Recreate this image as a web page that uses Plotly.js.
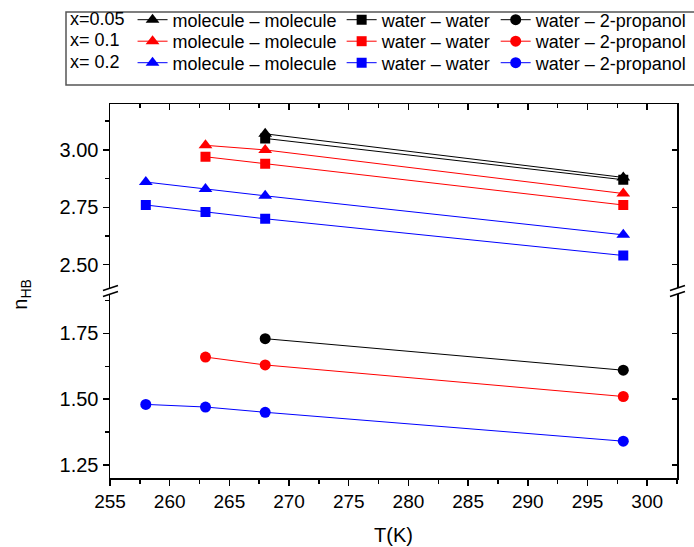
<!DOCTYPE html>
<html>
<head>
<meta charset="utf-8">
<script src="https://cdn.plot.ly/plotly-3.0.1.min.js"></script>
<style>html,body{margin:0;padding:0;background:#fff;}#chart{width:694px;height:547px;}</style>
</head>
<body>
<div id="chart"></div>
<script>
// ---- data ----
const T_005 = [268, 298];
const mm_005 = [3.07, 2.88];
const ww_005 = [3.05, 2.87];
const wp_005 = [1.73, 1.61];

const T_01 = [263, 268, 298];
const mm_01 = [3.02, 3.00, 2.81];
const ww_01 = [2.97, 2.94, 2.76];
const wp_01 = [1.66, 1.63, 1.51];

const T_02 = [258, 263, 268, 298];
const mm_02 = [2.86, 2.83, 2.80, 2.63];
const ww_02 = [2.76, 2.73, 2.70, 2.54];
const wp_02 = [1.48, 1.47, 1.45, 1.34];

const rowLabels = ['x=0.05', 'x= 0.1\u00a0', 'x= 0.2\u00a0'];
const seriesNames = ['molecule \u2013 molecule', 'water \u2013 water', 'water \u2013 2-propanol'];
const xTickVals = [255, 260, 265, 270, 275, 280, 285, 290, 295, 300];
const yUpperTicks = [2.50, 2.75, 3.00];
const yLowerTicks = [1.25, 1.50, 1.75];

// ---- styling ----
const FONT = 'Liberation Sans, Arial, sans-serif';
const colors = ['#000000', '#ff0000', '#0000ff'];
const symbols = ['triangle-up', 'square', 'circle'];
const msize = [12, 10, 11];
const legends = ['legend', 'legend2', 'legend3'];

const groups = [
  {T: T_005, vals: [mm_005, ww_005, wp_005]},
  {T: T_01, vals: [mm_01, ww_01, wp_01]},
  {T: T_02, vals: [mm_02, ww_02, wp_02]}
];

const traces = [];
groups.forEach((g, gi) => {
  g.vals.forEach((v, si) => {
    traces.push({
      x: g.T, y: v,
      yaxis: si === 2 ? 'y' : 'y2',
      xaxis: 'x',
      mode: 'lines+markers',
      name: seriesNames[si],
      legend: legends[gi],
      line: {color: colors[gi], width: 1},
      marker: {symbol: symbols[si], size: msize[si], color: colors[gi], line: {width: 0}},
      hoverinfo: 'x+y'
    });
  });
});
// invisible helper traces so the mirrored frame axes (top / right) get their subplots drawn
[['x2', 'y2', mm_005], ['x', 'y3', wp_005], ['x', 'y4', mm_005]].forEach(([xa, ya, v]) => {
  traces.push({x: T_005, y: v, xaxis: xa, yaxis: ya, mode: 'markers',
    marker: {opacity: 0, size: 1}, showlegend: false, hoverinfo: 'skip'});
});

const axFont = {family: FONT, size: 20, color: '#000'};
const baseY = {
  showline: true, linecolor: '#000', linewidth: 1.5,
  ticks: 'outside', ticklen: 6, tickwidth: 1.5, tickcolor: '#000',
  showgrid: false, zeroline: false, tickfont: axFont, tickformat: '.2f',
  minor: {ticks: 'outside', ticklen: 4, tickwidth: 1.5, tickcolor: '#000', showgrid: false}
};

const brk = 0.5;
function slash(xa, dy) {
  return {type: 'line', xref: 'paper', yref: 'paper', xsizemode: 'pixel', ysizemode: 'pixel',
    xanchor: xa, yanchor: brk, x0: -7, x1: 8, y0: dy - 2.5, y1: dy + 2.5,
    line: {color: '#000', width: 1.5}};
}

const LFONT = {family: FONT, size: 18, color: '#000'};
const legendBase = (yc, label) => ({
  orientation: 'h', xref: 'container', yref: 'container',
  x: 68 / 694, y: 1 - yc / 547, xanchor: 'left', yanchor: 'middle',
  bgcolor: 'rgba(0,0,0,0)', borderwidth: 0,
  font: LFONT,
  itemwidth: 30,
  title: {text: label, side: 'left', font: LFONT}
});

const layout = {
  width: 694, height: 547,
  margin: {l: 110, r: 17, t: 104, b: 69, pad: 0},
  paper_bgcolor: '#fff', plot_bgcolor: '#fff',
  font: {family: FONT, color: '#000'},
  showlegend: true,
  xaxis: {
    range: [255, 302.5], tickvals: xTickVals, anchor: 'y', domain: [0, 1],
    showline: true, linecolor: '#000', linewidth: 1.5,
    ticks: 'outside', ticklen: 6, tickwidth: 1.5, tickcolor: '#000',
    showgrid: false, zeroline: false, tickfont: {family: FONT, size: 19, color: '#000'},
    minor: {dtick: 2.5, tick0: 255, ticks: 'outside', ticklen: 4, tickwidth: 1.5, tickcolor: '#000', showgrid: false},
    title: {text: 'T(K)', font: {family: FONT, size: 20, color: '#000'}, standoff: 16}
  },
  xaxis2: {
    range: [255, 302.5], overlaying: 'x', anchor: 'y2', side: 'top',
    showline: true, linecolor: '#000', linewidth: 1.5,
    ticks: 'inside', ticklen: 6, tickwidth: 1.5, tickcolor: '#000', tickvals: xTickVals,
    showticklabels: false, showgrid: false, zeroline: false,
    minor: {dtick: 2.5, tick0: 255, ticks: 'inside', ticklen: 4, tickwidth: 1.5, tickcolor: '#000', showgrid: false}
  },
  yaxis: Object.assign({}, baseY, {
    domain: [0, 0.492], range: [1.2, 1.9], tickvals: yLowerTicks, anchor: 'x',
    minor: Object.assign({}, baseY.minor, {dtick: 0.125, tick0: 1.25})
  }),
  yaxis2: Object.assign({}, baseY, {
    domain: [0.509, 1], range: [2.4, 3.2], tickvals: yUpperTicks, anchor: 'x',
    minor: Object.assign({}, baseY.minor, {dtick: 0.125, tick0: 2.5})
  }),
  yaxis3: {
    overlaying: 'y', side: 'right', anchor: 'x', range: [1.2, 1.9],
    showline: true, linecolor: '#000', linewidth: 1.5,
    ticks: 'inside', ticklen: 5, tickwidth: 1.5, tickcolor: '#000', tickvals: yLowerTicks,
    showticklabels: false, showgrid: false, zeroline: false
  },
  yaxis4: {
    overlaying: 'y2', side: 'right', anchor: 'x', range: [2.4, 3.2],
    showline: true, linecolor: '#000', linewidth: 1.5,
    ticks: 'inside', ticklen: 5, tickwidth: 1.5, tickcolor: '#000', tickvals: yUpperTicks,
    showticklabels: false, showgrid: false, zeroline: false
  },
  legend: legendBase(20, rowLabels[0]),
  legend2: legendBase(41.5, rowLabels[1]),
  legend3: legendBase(63, rowLabels[2]),
  shapes: [
    slash(0, 3), slash(0, -3), slash(1, 3), slash(1, -3),
    {type: 'rect', xref: 'paper', yref: 'paper', xsizemode: 'pixel', ysizemode: 'pixel',
     xanchor: 0, yanchor: 1, x0: -44, x1: 600, y0: 19, y1: 92,
     line: {color: '#555', width: 1.5}, fillcolor: 'rgba(0,0,0,0)'}
  ],
  annotations: [{
    text: 'n<sub>HB</sub>', xref: 'paper', yref: 'paper', x: -88 / 567, y: 0.49,
    xanchor: 'center', yanchor: 'middle', textangle: -90, showarrow: false,
    font: {family: FONT, size: 20, color: '#000'}
  }]
};

Plotly.newPlot('chart', traces, layout, {displayModeBar: false, staticPlot: true});
</script>
</body>
</html>
